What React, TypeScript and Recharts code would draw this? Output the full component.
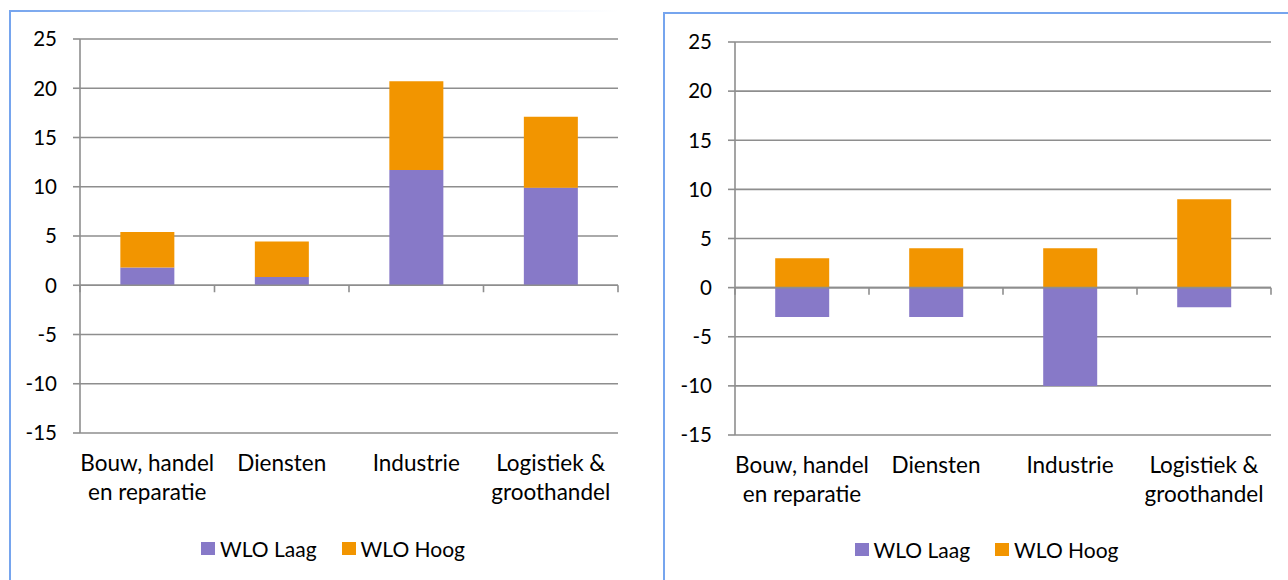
import React from 'react';
import { BarChart, Bar, XAxis, YAxis, CartesianGrid, Legend, ReferenceLine } from 'recharts';

// categories, wrapped the way the source labels wrap
const categories = ['Bouw, handel\nen reparatie', 'Diensten', 'Industrie', 'Logistiek &\ngroothandel'];
const seriesNames = ['WLO Laag', 'WLO Hoog'];
const seriesColors = ['#8779C8', '#F29500'];

// left panel
const laagLeft = [1.8, 0.85, 11.7, 9.9];
const hoogLeft = [3.6, 3.6, 9.0, 7.2];

// right panel
const laagRight = [-3, -3, -10, -2];
const hoogRight = [3, 4, 4, 9];

const yTicks = [-15, -10, -5, 0, 5, 10, 15, 20, 25];

const FONT = 'Lato, "Noto Sans", sans-serif';
const GRID = '#8e8e8e';
const FRAME = '#76a5ee';

const leftData = categories.map((name, i) => ({ name, laag: laagLeft[i], hoog: hoogLeft[i] }));
const rightData = categories.map((name, i) => ({ name, laag: laagRight[i], hoog: hoogRight[i] }));

const CategoryTick = ({ x, y, payload }: any) => {
  const lines = String(payload.value).split('\n');
  return (
    <text x={x} y={y + 38} textAnchor="middle" fontFamily={FONT} fontSize={22.5} fill="#000">
      {lines.map((l, i) => (
        <tspan key={i} x={x} dy={i === 0 ? 0 : 29}>{l}</tspan>
      ))}
    </text>
  );
};

// the zero line with tick marks between categories, like an Excel axis
const zeroAxis = (count: number) => (props: any) => {
  const { x1, x2, y1 } = props;
  const step = (x2 - x1) / count;
  return (
    <g>
      <line x1={x1} x2={x2} y1={y1} y2={y1} stroke={GRID} strokeWidth={1.6} />
      {Array.from({ length: count + 1 }, (_, i) => (
        <line key={i} x1={x1 + i * step} x2={x1 + i * step} y1={y1} y2={y1 + 7} stroke={GRID} strokeWidth={1.6} />
      ))}
    </g>
  );
};

const LegendContent = () => (
  <div style={{ height: 30, display: 'flex', alignItems: 'center', justifyContent: 'center', gap: 25, fontFamily: FONT, fontSize: 21, color: '#000' }}>
    {seriesNames.map((n, i) => (
      <div key={n} style={{ display: 'flex', alignItems: 'center' }}>
        <span style={{ width: 14, height: 13, background: seriesColors[i], marginRight: 5, display: 'inline-block' }} />
        <span>{n}</span>
      </div>
    ))}
  </div>
);

interface PanelProps {
  data: { name: string; laag: number; hoog: number }[];
  width: number;
  margin: { top: number; right: number; left: number; bottom: number };
  legendStyle: React.CSSProperties;
}

function Panel({ data, width, margin, legendStyle }: PanelProps) {
  return (
    <BarChart width={width} height={580} data={data} margin={margin} stackOffset="sign" barCategoryGap="30%">
      <CartesianGrid vertical={false} stroke={GRID} strokeWidth={1.6} />
      <XAxis dataKey="name" interval={0} axisLine={false} tickLine={false} tickSize={0} tickMargin={0} height={100} tick={<CategoryTick />} />
      <YAxis
        domain={[-15, 25]}
        ticks={yTicks}
        width={80}
        axisLine={{ stroke: GRID, strokeWidth: 1.6 }}
        tickLine={{ stroke: GRID, strokeWidth: 1.6 }}
        tickSize={7}
        tickMargin={16}
        tick={{ fontFamily: FONT, fontSize: 20.5, fill: '#000' }}
      />
      <Bar dataKey="laag" name={seriesNames[0]} stackId="a" fill={seriesColors[0]} isAnimationActive={false} />
      <Bar dataKey="hoog" name={seriesNames[1]} stackId="a" fill={seriesColors[1]} isAnimationActive={false} />
      <ReferenceLine y={0} shape={zeroAxis(data.length)} />
      <Legend content={<LegendContent />} wrapperStyle={legendStyle} />
    </BarChart>
  );
}

export default function App() {
  return (
    <div style={{ position: 'absolute', left: 0, top: 0, width: 1288, height: 580, background: '#fff', overflow: 'hidden' }}>
      {/* frames of the two embedded charts */}
      <div style={{ position: 'absolute', left: 9, top: 10, width: 2, height: 570, background: FRAME }} />
      <div style={{ position: 'absolute', left: 9, top: 10, width: 610, height: 2, background: `linear-gradient(to right, ${FRAME}, rgba(118,165,238,0.35) 50%, rgba(118,165,238,0))` }} />
      <div style={{ position: 'absolute', left: 663, top: 12, width: 2, height: 568, background: FRAME }} />
      <div style={{ position: 'absolute', left: 663, top: 12, width: 625, height: 2, background: FRAME }} />

      <div style={{ position: 'absolute', left: 0, top: 0 }}>
        <Panel
          data={leftData}
          width={640}
          margin={{ top: 39, right: 22, left: 0, bottom: 17 }}
          legendStyle={{ left: 0, top: 533, width: 666 }}
        />
      </div>
      <div style={{ position: 'absolute', left: 640, top: 0 }}>
        <Panel
          data={rightData}
          width={648}
          margin={{ top: 42, right: 17, left: 15, bottom: 15 }}
          legendStyle={{ left: 46, top: 534, width: 601 }}
        />
      </div>
    </div>
  );
}
